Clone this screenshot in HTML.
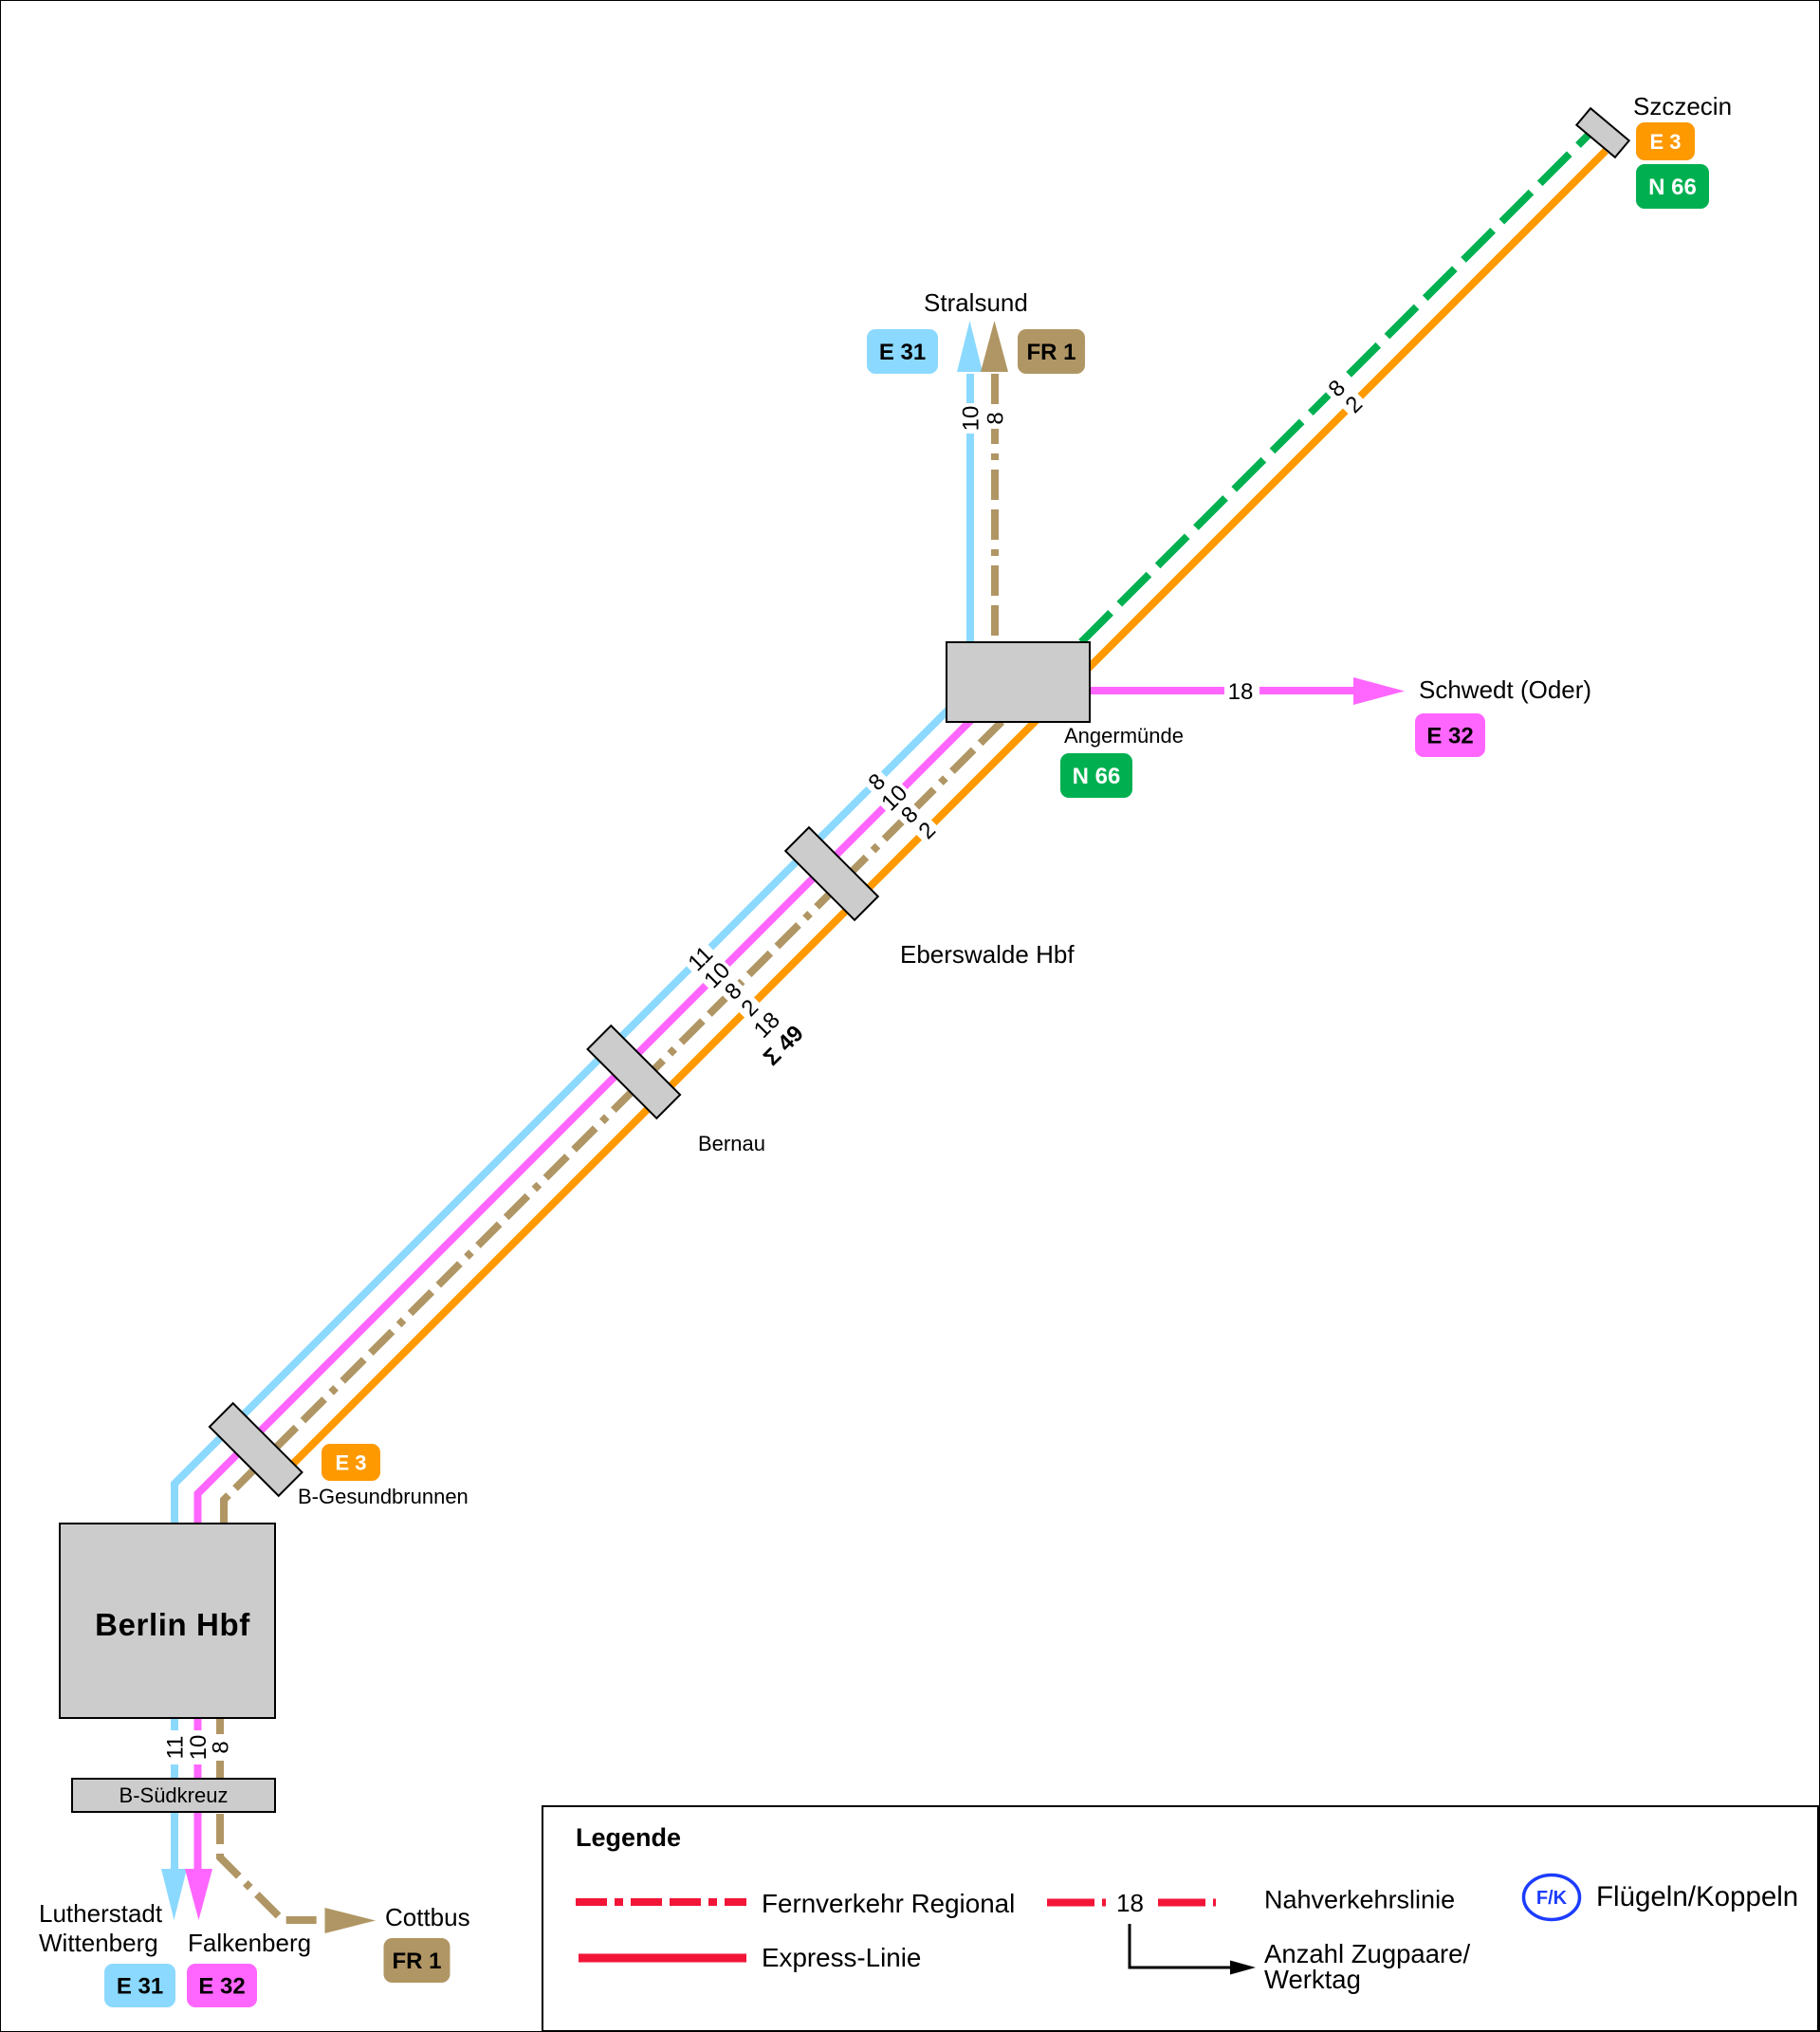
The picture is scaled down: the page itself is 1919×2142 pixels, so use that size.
<!DOCTYPE html>
<html>
<head>
<meta charset="utf-8">
<style>
  html,body{margin:0;padding:0;background:#fff;}
  svg{display:block;}
  text{font-family:"Liberation Sans",Arial,sans-serif;}
</style>
</head>
<body>
<svg width="1919" height="2142" viewBox="0 0 1919 2142" xmlns="http://www.w3.org/2000/svg">
  <rect x="0.5" y="0.5" width="1918" height="2141" fill="#fff" stroke="#000" stroke-width="1"/>

  <!-- ===== LINES ===== -->
  <g fill="none" stroke-width="8" stroke-linejoin="miter">
    <path d="M184 1972 L184 1564 L1040 708" stroke="#8CD9FF"/>
    <path d="M1023 394 L1023 700" stroke="#8CD9FF"/>
    <path d="M208.5 1972 L208.5 1574.5 L1060 723" stroke="#FF66FF"/>
    <path d="M1100 728 L1430 728" stroke="#FF66FF"/>
    <path d="M308 1544 L1693 159" stroke="#FF9900"/>
    <path d="M1140 677 L1677 140" stroke="#00B050" stroke-dasharray="44 13"/>
    <path d="M236 1606 L236 1581 L1070 747" stroke="#B09664" stroke-dasharray="32 10 32 10 7 10"/>
    <path d="M1049 394 L1049 677" stroke="#B09664" stroke-dasharray="32 10 32 10 7 10"/>
    <path d="M232 1811 L232 1958 L298 2024 L346 2024" stroke="#B09664" stroke-dasharray="32 10 32 10 7 10"/>
  </g>

  <!-- arrowheads -->
  <polygon points="1009,392 1036,392 1022.5,338" fill="#8CD9FF"/>
  <polygon points="1034,392 1063,392 1048.5,338" fill="#B09664"/>
  <polygon points="1427,714 1427,743 1481,728.5" fill="#FF66FF"/>
  <polygon points="170,1970 197,1970 183.5,2024" fill="#8CD9FF"/>
  <polygon points="195,1970 224,1970 209.5,2024" fill="#FF66FF"/>
  <polygon points="342.5,2011 342.5,2038 396,2024.5" fill="#B09664"/>

  <!-- ===== NUMBER LABELS (with gaps) ===== -->
  <g font-size="24" fill="#000">
    <g transform="translate(1023 441) rotate(-90)"><rect x="-16" y="-7" width="32" height="14" fill="#fff"/><text y="8.6" text-anchor="middle">10</text></g>
    <g transform="translate(1049 441) rotate(-90)"><rect x="-11" y="-7" width="22" height="14" fill="#fff"/><text y="8.6" text-anchor="middle">8</text></g>
    <rect x="1291" y="720" width="37" height="16" fill="#fff"/>
    <text x="1308" y="737" text-anchor="middle">18</text>
    <g transform="translate(1409 409) rotate(-45)"><rect x="-11" y="-7" width="22" height="14" fill="#fff"/><text y="8.6" text-anchor="middle">8</text></g>
    <g transform="translate(1427 426) rotate(-45)"><rect x="-11" y="-7" width="22" height="14" fill="#fff"/><text y="8.6" text-anchor="middle">2</text></g>
    <g transform="translate(924 824) rotate(-45)"><rect x="-11" y="-7" width="22" height="14" fill="#fff"/><text y="8.6" text-anchor="middle">8</text></g>
    <g transform="translate(942.5 840.5) rotate(-45)"><rect x="-16" y="-7" width="32" height="14" fill="#fff"/><text y="8.6" text-anchor="middle">10</text></g>
    <g transform="translate(958.5 858.5) rotate(-45)"><rect x="-11" y="-7" width="22" height="14" fill="#fff"/><text y="8.6" text-anchor="middle">8</text></g>
    <g transform="translate(977 875) rotate(-45)"><rect x="-11" y="-7" width="22" height="14" fill="#fff"/><text y="8.6" text-anchor="middle">2</text></g>
    <g transform="translate(738 1010) rotate(-45)"><rect x="-16" y="-7" width="32" height="14" fill="#fff"/><text y="8.6" text-anchor="middle">11</text></g>
    <g transform="translate(755.5 1027.5) rotate(-45)"><rect x="-16" y="-7" width="32" height="14" fill="#fff"/><text y="8.6" text-anchor="middle">10</text></g>
    <g transform="translate(772.5 1044.5) rotate(-45)"><rect x="-11" y="-7" width="22" height="14" fill="#fff"/><text y="8.6" text-anchor="middle">8</text></g>
    <g transform="translate(790 1062) rotate(-45)"><rect x="-11" y="-7" width="22" height="14" fill="#fff"/><text y="8.6" text-anchor="middle">2</text></g>
    <g transform="translate(808 1080) rotate(-45)"><text y="8.6" text-anchor="middle">18</text></g>
    <g transform="translate(825.5 1101.5) rotate(-45)"><text y="8.6" text-anchor="middle" font-weight="bold">Σ 49</text></g>
    <g transform="translate(184 1842) rotate(-90)"><rect x="-18" y="-7" width="36" height="14" fill="#fff"/><text y="8.6" text-anchor="middle">11</text></g>
    <g transform="translate(208.5 1842) rotate(-90)"><rect x="-18" y="-7" width="36" height="14" fill="#fff"/><text y="8.6" text-anchor="middle">10</text></g>
    <g transform="translate(232 1842) rotate(-90)"><rect x="-14" y="-7" width="28" height="14" fill="#fff"/><text y="8.6" text-anchor="middle">8</text></g>
  </g>

  <!-- ===== STATIONS ===== -->
  <g fill="#CCCCCC" stroke="#000" stroke-width="2">
    <rect x="998" y="677" width="151" height="84"/>
    <rect x="63" y="1606" width="227" height="205"/>
    <rect x="76" y="1875" width="214" height="35"/>
    <rect x="-51.5" y="-17.5" width="103" height="35" transform="translate(877 921) rotate(45)"/>
    <rect x="-51.5" y="-17.5" width="103" height="35" transform="translate(668.3 1130) rotate(45)"/>
    <rect x="-51.5" y="-17.5" width="103" height="35" transform="translate(269.7 1528) rotate(45)"/>
    <rect x="-26.5" y="-11.5" width="53" height="23" transform="translate(1690 140) rotate(40)"/>
  </g>

  <!-- ===== PLACE NAMES ===== -->
  <g fill="#000">
    <text x="974" y="328" font-size="26">Stralsund</text>
    <text x="1722" y="121" font-size="26">Szczecin</text>
    <text x="1496" y="736" font-size="26">Schwedt (Oder)</text>
    <text x="1122" y="783" font-size="22">Angermünde</text>
    <text x="949" y="1015" font-size="26">Eberswalde Hbf</text>
    <text x="736" y="1213" font-size="22">Bernau</text>
    <text x="314" y="1585" font-size="22">B-Gesundbrunnen</text>
    <text x="182" y="1724" font-size="33" font-weight="bold" text-anchor="middle" letter-spacing="0.6">Berlin Hbf</text>
    <text x="183" y="1900" font-size="22" text-anchor="middle">B-Südkreuz</text>
    <text x="41" y="2026" font-size="26">Lutherstadt</text>
    <text x="41" y="2057" font-size="26">Wittenberg</text>
    <text x="198" y="2057" font-size="26">Falkenberg</text>
    <text x="406" y="2030" font-size="26">Cottbus</text>
  </g>

  <!-- ===== BADGES ===== -->
  <g font-weight="bold" text-anchor="middle">
    <rect x="914" y="347" width="75" height="47" rx="9" fill="#8CD9FF"/>
    <text x="951.5" y="379" font-size="24" fill="#000">E 31</text>
    <rect x="1073" y="347" width="71" height="47" rx="9" fill="#B09664"/>
    <text x="1108.5" y="379" font-size="24" fill="#000">FR 1</text>

    <rect x="1725" y="129" width="62" height="40" rx="9" fill="#FF9900"/>
    <text x="1756" y="157" font-size="22" fill="#fff">E 3</text>
    <rect x="1725" y="173" width="77" height="47" rx="9" fill="#00B050"/>
    <text x="1763.5" y="205" font-size="24" fill="#fff">N 66</text>

    <rect x="1118" y="794" width="76" height="47" rx="9" fill="#00B050"/>
    <text x="1156" y="826" font-size="24" fill="#fff">N 66</text>

    <rect x="1492" y="752" width="74" height="46" rx="9" fill="#FF66FF"/>
    <text x="1529" y="783.5" font-size="24" fill="#000">E 32</text>

    <rect x="339" y="1522" width="62" height="39" rx="9" fill="#FF9900"/>
    <text x="370" y="1549.5" font-size="22" fill="#fff">E 3</text>

    <rect x="110" y="2070" width="75" height="46" rx="9" fill="#8CD9FF"/>
    <text x="147.5" y="2101.5" font-size="24" fill="#000">E 31</text>
    <rect x="197" y="2070" width="74" height="46" rx="9" fill="#FF66FF"/>
    <text x="234" y="2101.5" font-size="24" fill="#000">E 32</text>

    <rect x="404.5" y="2043" width="70" height="47" rx="9" fill="#B09664"/>
    <text x="439.5" y="2075" font-size="24" fill="#000">FR 1</text>
  </g>

  <!-- ===== LEGEND ===== -->
  <rect x="572" y="1904" width="1345" height="237" fill="none" stroke="#000" stroke-width="2"/>
  <text x="607" y="1946" font-size="27" font-weight="bold">Legende</text>

  <line x1="607" y1="2005" x2="787" y2="2005" stroke="#F31538" stroke-width="8" stroke-dasharray="33 8 9 8 33 8"/>
  <text x="803" y="2016" font-size="27.8">Fernverkehr Regional</text>

  <line x1="610" y1="2064" x2="787" y2="2064" stroke="#F31538" stroke-width="9"/>
  <text x="803" y="2073" font-size="27.8">Express-Linie</text>

  <g stroke="#F31538" stroke-width="8">
    <line x1="1104" y1="2005.5" x2="1154" y2="2005.5"/>
    <line x1="1162" y1="2005.5" x2="1166" y2="2005.5"/>
    <line x1="1221" y1="2005.5" x2="1271" y2="2005.5"/>
    <line x1="1279" y1="2005.5" x2="1282" y2="2005.5"/>
  </g>
  <text x="1191.5" y="2015" font-size="26" text-anchor="middle">18</text>
  <text x="1333" y="2011.5" font-size="27">Nahverkehrslinie</text>

  <path d="M1191 2028 L1191 2074 L1300 2074" fill="none" stroke="#000" stroke-width="3"/>
  <polygon points="1297,2066.5 1297,2081.5 1324,2074" fill="#000"/>
  <text x="1333" y="2069" font-size="27.5">Anzahl Zugpaare/</text>
  <text x="1333" y="2096" font-size="27.5">Werktag</text>

  <ellipse cx="1636" cy="2000" rx="29.5" ry="23.5" fill="none" stroke="#1C3CFF" stroke-width="3.5"/>
  <text x="1636" y="2007" font-size="20" font-weight="bold" fill="#1C3CFF" text-anchor="middle">F/K</text>
  <text x="1683" y="2009" font-size="29.5">Flügeln/Koppeln</text>
</svg>
</body>
</html>
